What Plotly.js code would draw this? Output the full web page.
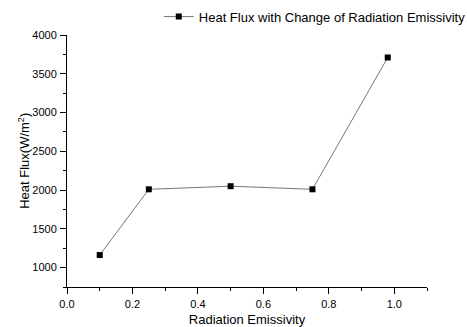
<!DOCTYPE html>
<html><head><meta charset="utf-8">
<script src="https://cdn.plot.ly/plotly-3.0.1.min.js"></script>
<style>html,body{margin:0;padding:0;background:#fff}#chart{width:467px;height:327px}</style>
</head><body><div id="chart"></div>
<script>
const emissivity = [0.1, 0.25, 0.5, 0.75, 0.98];
const heatFlux = [1162, 2010, 2050, 2010, 3710];
const seriesName = 'Heat Flux with Change of Radiation Emissivity';
const xTickVals = [0, 0.2, 0.4, 0.6, 0.8, 1.0];
const xTickText = ['0.0', '0.2', '0.4', '0.6', '0.8', '1.0'];
const yTickVals = [1000, 1500, 2000, 2500, 3000, 3500, 4000];
const yTitle = 'Heat Flux(W/m<sup>2</sup>)';

const font = 'Liberation Sans, Arial, sans-serif';
Plotly.newPlot('chart', [{
  x: emissivity, y: heatFlux, name: seriesName, type: 'scatter', mode: 'lines+markers',
  line: {color: '#777', width: 1},
  marker: {symbol: 'square', size: 6, color: '#000'},
  showlegend: true
}], {
  width: 467, height: 327,
  margin: {l: 67, r: 40, t: 35, b: 40, autoexpand: false},
  paper_bgcolor: '#fff', plot_bgcolor: '#fff',
  font: {family: font, color: '#000', size: 11},
  showlegend: true,
  legend: {xref: 'container', yref: 'container', x: 0.34, y: 0.995, xanchor: 'left', yanchor: 'top',
           font: {size: 13, family: font}, bgcolor: 'rgba(0,0,0,0)', itemwidth: 30},
  annotations: [{
    text: yTitle, xref: 'paper', yref: 'paper', x: -0.12, y: 0.5,
    xanchor: 'center', yanchor: 'middle', textangle: -90, showarrow: false,
    font: {size: 13, family: font, color: '#000'}
  }],
  xaxis: {
    range: [0, 1.1], tickvals: xTickVals, ticktext: xTickText,
    showgrid: false, zeroline: false, showline: true, linecolor: '#000', linewidth: 1,
    ticks: 'outside', ticklen: 6, tickcolor: '#000', tickfont: {size: 11}, ticklabelstandoff: 1,
    minor: {dtick: 0.1, ticks: 'outside', ticklen: 3, tickcolor: '#000', showgrid: false},
    title: {text: 'Radiation Emissivity', font: {size: 13}, standoff: 6}
  },
  yaxis: {
    range: [750, 4000], tickvals: yTickVals,
    showgrid: false, zeroline: false, showline: true, linecolor: '#000', linewidth: 1,
    ticks: 'outside', ticklen: 6, tickcolor: '#000', tickfont: {size: 11}, ticklabelstandoff: 1,
    minor: {dtick: 250, ticks: 'outside', ticklen: 3, tickcolor: '#000', showgrid: false}
  }
}, {displayModeBar: false, staticPlot: true});
</script></body></html>
